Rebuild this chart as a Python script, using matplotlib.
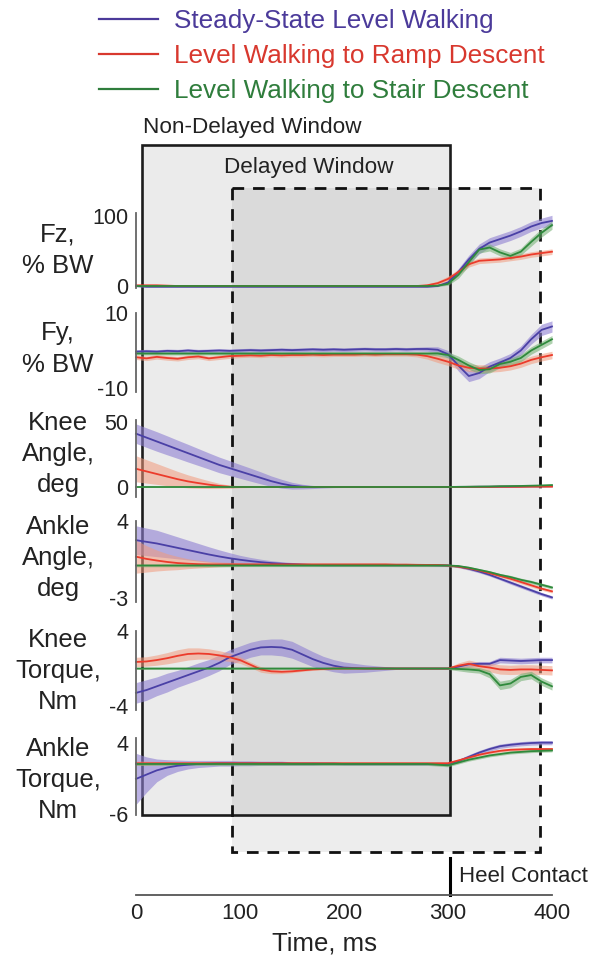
import matplotlib
matplotlib.use("Agg")
import matplotlib.pyplot as plt
from matplotlib.patches import Rectangle
from matplotlib.lines import Line2D
import numpy as np

plt.rcParams['font.family'] = ['Liberation Sans', 'DejaVu Sans']

# ---------------- data ----------------
t_ms = [0, 10, 20, 30, 40, 50, 60, 70, 80, 90,
        100, 110, 120, 130, 140, 150, 160, 170, 180, 190,
        200, 210, 220, 230, 240, 250, 260, 270, 280, 290,
        300, 310, 320, 330, 340, 350, 360, 370, 380, 390, 400]

series_names = ["Steady-State Level Walking",
                "Level Walking to Ramp Descent",
                "Level Walking to Stair Descent"]

# Fz, % BW
fz_level = [0, -1, -1, -1, -1, -1, -1, -1, -1, -1,
            -1, -1, -1, -1, -1, -1, -1, -1, -1, -1,
            -1, -1, -1, -1, -1, -1, -1, -1, -1, 0,
            5, 20, 38, 53, 62, 67, 72, 78, 85, 90, 93]
fz_ramp = [1, 1, 1, 0.5, 0, 0, 0, 0, 0, 0,
           0, 0, 0, 0, 0, 0, 0, 0, 0, 0,
           0, 0, 0, 0, 0, 0, 0, 0, 1, 4,
           10, 20, 31, 36, 37, 38, 40, 42, 45, 47, 49]
fz_stair = [0, 0, 0, 0, 0, 0, 0, 0, 0, 0,
            0, 0, 0, 0, 0, 0, 0, 0, 0, 0,
            0, 0, 0, 0, 0, 0, 0, 0, 0, 0.5,
            3, 16, 34, 52, 55, 48, 43, 49, 63, 76, 87]
fz_level_sd = [1, 1, 1, 1, 1, 1, 1, 1, 1, 1,
               1, 1, 1, 1, 1, 1, 1, 1, 1, 1,
               1, 1, 1, 1, 1, 1, 1, 1, 1, 1,
               2, 5, 6, 7, 7, 7, 7, 7, 7, 7, 8]
fz_ramp_sd = [1, 1, 1, 1, 1, 1, 1, 1, 1, 1,
              1, 1, 1, 1, 1, 1, 1, 1, 1, 1,
              1, 1, 1, 1, 1, 1, 1, 1, 2, 3,
              4, 4, 4, 4, 4, 4, 4, 4, 4, 4, 4]
fz_stair_sd = [1, 1, 1, 1, 1, 1, 1, 1, 1, 1,
               1, 1, 1, 1, 1, 1, 1, 1, 1, 1,
               1, 1, 1, 1, 1, 1, 1, 1, 1, 1,
               2, 5, 5, 5, 5, 5, 5, 5, 6, 6, 6]

# Fy, % BW
fy_level = [-0.3, -0.2, -0.3, -0.1, -0.2, 0, -0.2, -0.1, 0, -0.1,
            0, 0.1, 0, 0.1, 0.2, 0.1, 0.2, 0.3, 0.2, 0.3,
            0.2, 0.3, 0.4, 0.3, 0.3, 0.4, 0.3, 0.4, 0.4, 0.2,
            -1, -4, -6.8, -6, -4.3, -3.2, -2, 0, 3, 5.5, 6.4]
fy_ramp = [-1.8, -2.1, -1.7, -2.0, -2.2, -1.8, -1.6, -2.1, -1.8, -1.5,
           -1.4, -1.3, -1.4, -1.2, -1.3, -1.2, -1.2, -1.1, -1.2, -1.1,
           -1.1, -1.1, -1.0, -1.1, -1.0, -1.0, -1.0, -1.1, -1.5, -2.2,
           -3, -4, -4.6, -4.8, -4.8, -4.6, -4.2, -3.5, -2.5, -1.8, -1.2]
fy_stair = [-0.8, -0.8, -0.8, -0.8, -0.8, -0.8, -0.8, -0.8, -0.8, -0.8,
            -0.8, -0.8, -0.8, -0.8, -0.8, -0.8, -0.8, -0.8, -0.8, -0.8,
            -0.8, -0.8, -0.8, -0.8, -0.8, -0.8, -0.8, -0.8, -0.8, -0.8,
            -1.2, -2.5, -4, -5.2, -5, -3.6, -3, -2, 0, 1.5, 3]
fy_level_sd = [0.5, 0.5, 0.5, 0.5, 0.5, 0.5, 0.5, 0.5, 0.5, 0.5,
               0.5, 0.5, 0.5, 0.5, 0.5, 0.5, 0.5, 0.5, 0.5, 0.5,
               0.5, 0.5, 0.5, 0.5, 0.5, 0.5, 0.5, 0.5, 0.6, 0.8,
               1.0, 1.5, 1.5, 1.5, 1.3, 1.2, 1.2, 1.2, 1.3, 1.5, 1.5]
fy_ramp_sd = [0.6, 0.6, 0.6, 0.6, 0.6, 0.6, 0.6, 0.6, 0.6, 0.6,
              0.5, 0.5, 0.5, 0.5, 0.5, 0.5, 0.5, 0.5, 0.5, 0.5,
              0.5, 0.5, 0.5, 0.5, 0.5, 0.5, 0.5, 0.6, 0.8, 1.0,
              1.0, 1.0, 1.0, 1.0, 1.0, 1.0, 1.0, 1.0, 1.0, 1.0, 1.0]
fy_stair_sd = [0.4, 0.4, 0.4, 0.4, 0.4, 0.4, 0.4, 0.4, 0.4, 0.4,
               0.4, 0.4, 0.4, 0.4, 0.4, 0.4, 0.4, 0.4, 0.4, 0.4,
               0.4, 0.4, 0.4, 0.4, 0.4, 0.4, 0.4, 0.4, 0.4, 0.6,
               0.8, 1.0, 1.0, 1.0, 1.0, 1.0, 1.0, 1.0, 1.0, 1.0, 1.0]

# Knee angle, deg
ka_level = [41, 38, 35, 32, 29, 26, 23, 20, 17, 14.5,
            12, 9.5, 7, 4.5, 2.5, 1, 0.3, 0, 0, 0,
            0, 0, 0, 0, 0, 0, 0, 0, 0, 0,
            0, 0.1, 0.1, 0.2, 0.2, 0.3, 0.3, 0.4, 0.5, 0.5, 0.6]
ka_ramp = [14, 12, 10, 8, 6, 4.3, 3, 1.8, 0.8, 0.2,
           0, 0, 0, 0, 0, 0, 0, 0, 0, 0,
           0, 0, 0, 0, 0, 0, 0, 0, 0, 0,
           0, 0, 0.1, 0.1, 0.1, 0.2, 0.2, 0.2, 0.3, 0.3, 0.3]
ka_stair = [0, 0, 0, 0, 0, 0, 0, 0, 0, 0,
            0, 0, 0, 0, 0, 0, 0, 0, 0, 0,
            0, 0, 0, 0, 0, 0, 0, 0, 0, 0,
            0, 0.1, 0.2, 0.3, 0.4, 0.6, 0.7, 0.8, 1.0, 1.2, 1.5]
ka_level_sd = [7.5, 7.5, 7.5, 7.3, 7, 6.8, 6.5, 6.2, 6, 5.7,
               5.3, 5, 4.6, 4, 3.4, 2.6, 1.8, 1.2, 0.8, 0.5,
               0.4, 0.4, 0.4, 0.4, 0.4, 0.4, 0.4, 0.4, 0.4, 0.4,
               0.4, 0.4, 0.4, 0.4, 0.4, 0.4, 0.4, 0.4, 0.4, 0.4, 0.4]
ka_ramp_sd = [10, 9, 8, 7, 6, 5, 4, 3, 2, 1.2,
              0.6, 0.4, 0.3, 0.3, 0.3, 0.3, 0.3, 0.3, 0.3, 0.3,
              0.3, 0.3, 0.3, 0.3, 0.3, 0.3, 0.3, 0.3, 0.3, 0.3,
              0.3, 0.3, 0.3, 0.3, 0.3, 0.3, 0.3, 0.3, 0.3, 0.3, 0.3]
ka_stair_sd = [0.3, 0.3, 0.3, 0.3, 0.3, 0.3, 0.3, 0.3, 0.3, 0.3,
               0.3, 0.3, 0.3, 0.3, 0.3, 0.3, 0.3, 0.3, 0.3, 0.3,
               0.3, 0.3, 0.3, 0.3, 0.3, 0.3, 0.3, 0.3, 0.3, 0.3,
               0.3, 0.3, 0.3, 0.3, 0.3, 0.3, 0.3, 0.3, 0.3, 0.3, 0.3]

# Ankle angle, deg
aa_level = [2.3, 2.15, 2.0, 1.8, 1.6, 1.4, 1.2, 1.0, 0.82, 0.66,
            0.52, 0.4, 0.3, 0.22, 0.16, 0.12, 0.08, 0.05, 0.03, 0.03,
            0.03, 0.03, 0.03, 0.03, 0.03, 0.03, 0.03, 0.03, 0.03, 0.02,
            0, -0.1, -0.3, -0.55, -0.85, -1.2, -1.55, -1.9, -2.25, -2.6, -2.9]
aa_ramp = [0.8, 0.6, 0.45, 0.32, 0.22, 0.16, 0.12, 0.1, 0.1, 0.1,
           0.1, 0.1, 0.1, 0.1, 0.1, 0.1, 0.1, 0.1, 0.1, 0.1,
           0.1, 0.1, 0.1, 0.1, 0.1, 0.08, 0.08, 0.06, 0.05, 0.05,
           0, -0.1, -0.25, -0.45, -0.7, -0.95, -1.2, -1.5, -1.8, -2.1, -2.35]
aa_stair = [0, 0, 0, 0, 0, 0, 0, 0, 0, 0,
            0, 0, 0, 0, 0, 0, 0, 0, 0, 0,
            0, 0, 0, 0, 0, 0, 0, 0, 0, 0,
            0, -0.05, -0.2, -0.4, -0.6, -0.85, -1.05, -1.3, -1.5, -1.75, -2.0]
aa_level_sd = [1.3, 1.25, 1.2, 1.1, 1.0, 0.9, 0.8, 0.7, 0.6, 0.5,
               0.4, 0.33, 0.27, 0.22, 0.18, 0.15, 0.12, 0.1, 0.1, 0.1,
               0.1, 0.1, 0.1, 0.1, 0.1, 0.1, 0.1, 0.1, 0.1, 0.1,
               0.1, 0.1, 0.12, 0.12, 0.12, 0.12, 0.15, 0.15, 0.15, 0.15, 0.15]
aa_ramp_sd = [1.5, 1.2, 0.95, 0.75, 0.6, 0.45, 0.35, 0.28, 0.22, 0.18,
              0.15, 0.12, 0.1, 0.1, 0.1, 0.1, 0.1, 0.1, 0.1, 0.1,
              0.1, 0.1, 0.1, 0.1, 0.1, 0.1, 0.1, 0.1, 0.1, 0.1,
              0.1, 0.1, 0.12, 0.12, 0.12, 0.12, 0.15, 0.15, 0.15, 0.15, 0.15]
aa_stair_sd = [0.12, 0.12, 0.12, 0.12, 0.12, 0.12, 0.12, 0.12, 0.12, 0.12,
               0.1, 0.1, 0.1, 0.1, 0.1, 0.1, 0.1, 0.1, 0.1, 0.1,
               0.1, 0.1, 0.1, 0.1, 0.1, 0.1, 0.1, 0.1, 0.1, 0.1,
               0.1, 0.1, 0.12, 0.12, 0.12, 0.12, 0.15, 0.15, 0.15, 0.15, 0.15]

# Knee torque, Nm
kt_level = [-2.6, -2.3, -1.9, -1.5, -1.1, -0.7, -0.3, 0.1, 0.6, 1.2,
            1.6, 2.0, 2.25, 2.3, 2.25, 2.0, 1.5, 1.0, 0.6, 0.3,
            0.1, 0.05, 0, 0, 0, 0, 0, 0, 0, 0,
            0, 0.2, 0.45, 0.5, 0.5, 0.9, 0.85, 0.8, 0.85, 0.9, 0.9]
kt_ramp = [0.7, 0.75, 0.9, 1.1, 1.35, 1.55, 1.6, 1.55, 1.4, 1.2,
           0.9, 0.4, -0.1, -0.3, -0.35, -0.3, -0.2, -0.1, -0.05, 0,
           0, 0, 0, 0, 0, 0, 0, 0, 0, 0,
           0, 0.3, 0.5, 0.25, 0.1, -0.1, -0.15, -0.1, -0.1, -0.15, -0.2]
kt_stair = [0, 0, 0, 0, 0, 0, 0, 0, 0, 0,
            0, 0, 0, 0, 0, 0, 0, 0, 0, 0,
            0, 0, 0, 0, 0, 0, 0, 0, 0, 0,
            0, -0.05, -0.1, -0.2, -0.6, -1.8, -1.6, -0.9, -0.7, -1.4, -1.9]
kt_level_sd = [1.1, 1.1, 1.0, 1.0, 0.9, 0.9, 0.9, 0.85, 0.85, 0.8,
               0.8, 0.8, 0.8, 0.85, 0.9, 0.9, 0.85, 0.8, 0.7, 0.65,
               0.6, 0.5, 0.4, 0.3, 0.2, 0.1, 0.1, 0.1, 0.1, 0.1,
               0.1, 0.2, 0.25, 0.25, 0.25, 0.3, 0.3, 0.3, 0.3, 0.3, 0.3]
kt_ramp_sd = [0.5, 0.5, 0.55, 0.6, 0.65, 0.65, 0.6, 0.55, 0.5, 0.45,
              0.35, 0.3, 0.3, 0.25, 0.2, 0.15, 0.1, 0.1, 0.1, 0.1,
              0.1, 0.1, 0.1, 0.1, 0.1, 0.1, 0.1, 0.1, 0.1, 0.1,
              0.1, 0.3, 0.4, 0.4, 0.45, 0.5, 0.5, 0.5, 0.5, 0.5, 0.5]
kt_stair_sd = [0.1, 0.1, 0.1, 0.1, 0.1, 0.1, 0.1, 0.1, 0.1, 0.1,
               0.1, 0.1, 0.1, 0.1, 0.1, 0.1, 0.1, 0.1, 0.1, 0.1,
               0.1, 0.1, 0.1, 0.1, 0.1, 0.1, 0.1, 0.1, 0.1, 0.1,
               0.1, 0.2, 0.3, 0.3, 0.4, 0.45, 0.45, 0.4, 0.4, 0.4, 0.4]

# Ankle torque, Nm
at_level = [-1.1, -0.5, 0.1, 0.5, 0.75, 0.9, 1.0, 1.05, 1.1, 1.1,
            1.1, 1.1, 1.1, 1.1, 1.1, 1.05, 1.05, 1.05, 1.05, 1.05,
            1.0, 1.0, 1.0, 1.0, 1.0, 1.0, 1.0, 1.0, 1.0, 1.0,
            1.0, 1.4, 2.0, 2.6, 3.1, 3.5, 3.7, 3.85, 3.95, 4.0, 4.0]
at_ramp = [1.1, 1.1, 1.1, 1.1, 1.1, 1.1, 1.1, 1.1, 1.1, 1.1,
           1.1, 1.1, 1.1, 1.1, 1.1, 1.1, 1.1, 1.1, 1.1, 1.1,
           1.1, 1.1, 1.1, 1.1, 1.1, 1.1, 1.1, 1.1, 1.1, 1.1,
           1.1, 1.5, 1.9, 2.3, 2.6, 2.85, 3.0, 3.05, 3.1, 3.1, 3.1]
at_stair = [1.0, 1.0, 1.0, 1.0, 1.0, 1.0, 1.0, 1.0, 1.0, 1.0,
            1.0, 1.0, 1.0, 1.0, 1.0, 1.0, 1.0, 1.0, 1.0, 1.0,
            1.0, 1.0, 1.0, 1.0, 1.0, 1.0, 1.0, 1.0, 1.0, 0.9,
            0.8, 1.2, 1.6, 1.9, 2.2, 2.4, 2.6, 2.7, 2.8, 2.85, 2.9]
at_level_sd = [3.6, 2.5, 1.6, 1.1, 0.8, 0.6, 0.5, 0.45, 0.4, 0.4,
               0.35, 0.35, 0.3, 0.3, 0.3, 0.25, 0.25, 0.25, 0.2, 0.2,
               0.2, 0.2, 0.2, 0.2, 0.2, 0.2, 0.2, 0.2, 0.2, 0.2,
               0.2, 0.25, 0.3, 0.3, 0.3, 0.3, 0.3, 0.3, 0.3, 0.3, 0.3]
at_ramp_sd = [0.3, 0.3, 0.25, 0.25, 0.2, 0.2, 0.2, 0.2, 0.2, 0.2,
              0.2, 0.2, 0.2, 0.2, 0.2, 0.2, 0.2, 0.2, 0.2, 0.2,
              0.2, 0.2, 0.2, 0.2, 0.2, 0.2, 0.2, 0.2, 0.2, 0.2,
              0.2, 0.2, 0.2, 0.2, 0.2, 0.2, 0.2, 0.2, 0.2, 0.2, 0.2]
at_stair_sd = [0.2, 0.2, 0.2, 0.2, 0.2, 0.2, 0.2, 0.2, 0.2, 0.2,
               0.2, 0.2, 0.2, 0.2, 0.2, 0.2, 0.2, 0.2, 0.2, 0.2,
               0.2, 0.2, 0.2, 0.2, 0.2, 0.2, 0.2, 0.2, 0.2, 0.2,
               0.2, 0.2, 0.2, 0.2, 0.2, 0.2, 0.2, 0.2, 0.2, 0.2, 0.2]

panel_labels = ["Fz,\n% BW", "Fy,\n% BW", "Knee\nAngle,\ndeg",
                "Ankle\nAngle,\ndeg", "Knee\nTorque,\nNm", "Ankle\nTorque,\nNm"]
panel_ticks = [[0, 100], [-10, 10], [0, 50], [-3, 4], [-4, 4], [-6, 4]]
panel_tick_labels = [["0", "100"], ["-10", "10"], ["0", "50"],
                     ["-3", "4"], ["-4", "4"], ["-6", "4"]]

x_ticks = [0, 100, 200, 300, 400]
non_delayed_window = (6, 302)
delayed_window = (92, 388)
heel_contact_ms = 302

# ---------------- style / layout ----------------
W, H = 593, 961
line_colors = ["#4a40a6", "#ec3b2b", "#2f8a3c"]
band_colors = ["#8f80d2", "#f29a7c", "#6fae6f"]
band_alpha = [0.6, 0.55, 0.55]
legend_colors = ["#4b3a9a", "#d8382e", "#2f7d3c"]

X0, X1 = 136, 552          # pixel positions of 0 and 400 ms
# (ylim, top_px, bottom_px, label_center_px)
panel_layout = [
    ((-3, 104), 213.2, 288.1, 250),
    ((-11, 10), 313.0, 391.75, 349),
    ((-8, 51.5), 420.0, 497.4, 454),
    ((-3.3, 4.05), 520.9, 601.8, 558),
    ((-4.4, 4.0), 631.0, 709.75, 671),
    ((-6.2, 4.7), 737.7, 815.1, 780),
]

panel_data = [
    ([fz_level, fz_ramp, fz_stair], [fz_level_sd, fz_ramp_sd, fz_stair_sd]),
    ([fy_level, fy_ramp, fy_stair], [fy_level_sd, fy_ramp_sd, fy_stair_sd]),
    ([ka_level, ka_ramp, ka_stair], [ka_level_sd, ka_ramp_sd, ka_stair_sd]),
    ([aa_level, aa_ramp, aa_stair], [aa_level_sd, aa_ramp_sd, aa_stair_sd]),
    ([kt_level, kt_ramp, kt_stair], [kt_level_sd, kt_ramp_sd, kt_stair_sd]),
    ([at_level, at_ramp, at_stair], [at_level_sd, at_ramp_sd, at_stair_sd]),
]

fig = plt.figure(figsize=(W / 100, H / 100), dpi=100)
fig.patch.set_facecolor("white")

def fx(px):
    return px / W

def fy(py):
    return 1 - py / H

# background axes: x in ms, y in pixel rows (layout only)
bg = fig.add_axes([fx(X0), 0, fx(X1) - fx(X0), 1], zorder=0)
bg.set_xlim(0, 400)
bg.set_ylim(H, 0)
bg.axis("off")

nd0, nd1 = non_delayed_window
d0, d1 = delayed_window
bg.add_patch(Rectangle((nd0, 145), nd1 - nd0, 670, facecolor="black", alpha=0.08,
                       edgecolor="none", clip_on=False))
bg.add_patch(Rectangle((d0, 188), d1 - d0, 664, facecolor="black", alpha=0.07,
                       edgecolor="none", clip_on=False))
bg.add_patch(Rectangle((nd0, 145), nd1 - nd0, 670, facecolor="none",
                       edgecolor="#1c1c1c", lw=1.9, clip_on=False, zorder=5))
bg.add_patch(Rectangle((d0, 188), d1 - d0, 664, facecolor="none",
                       edgecolor="#111111", lw=2.0, linestyle=(0, (4.2, 3.2)),
                       clip_on=False, zorder=5))
bg.text(nd0 + 0.5, 128, "Non-Delayed Window", fontsize=16.2, color="#222222",
        ha="left", va="center")
bg.text(d0 - 7, 167, "Delayed Window", fontsize=16.2, color="#222222",
        ha="left", va="center")

# heel contact marker
bg.plot([heel_contact_ms, heel_contact_ms], [858, 895], color="black", lw=2.2,
        clip_on=False)
bg.text(heel_contact_ms + 8.5, 876, "Heel Contact", fontsize=16, color="#222222",
        ha="left", va="center")
bg.text(181, 943, "Time, ms", fontsize=18.5, color="#222222", ha="center", va="center")

# panels
t_arr = np.array(t_ms, dtype=float)
for (ylim, top, bot, lab_y), (means, sds), lab, ticks, tlabels in zip(
        panel_layout, panel_data, panel_labels, panel_ticks, panel_tick_labels):
    ax = fig.add_axes([fx(X0), fy(bot), fx(X1) - fx(X0), (bot - top) / H], zorder=2)
    ax.patch.set_alpha(0)
    ax.set_xlim(0, 400)
    ax.set_ylim(*ylim)
    for s in ["top", "right", "bottom"]:
        ax.spines[s].set_visible(False)
    ax.spines["left"].set_color("#666666")
    ax.spines["left"].set_linewidth(1.3)
    ax.set_xticks([])
    ax.set_yticks(ticks)
    ax.set_yticklabels(tlabels)
    ax.tick_params(axis="y", length=0, pad=5.5, labelsize=15.5, labelcolor="#222222")
    for m, sd, lc, bc, ba in zip(means, sds, line_colors, band_colors, band_alpha):
        m = np.array(m, dtype=float)
        sd = np.array(sd, dtype=float)
        ax.fill_between(t_arr, m - sd, m + sd, color=bc, alpha=ba, lw=0, clip_on=False)
    for m, lc in zip(means, line_colors):
        ax.plot(t_arr, m, color=lc, lw=1.3, clip_on=False)
    ax.set_ylabel(lab, rotation=0, ha="center", va="center", fontsize=18.5,
                  linespacing=1.38, color="#222222")
    ax.yaxis.set_label_coords((58 - X0) / (X1 - X0), (bot - lab_y) / (bot - top))

# time axis
xa = fig.add_axes([fx(X0), fy(895), fx(X1) - fx(X0), 0.001], zorder=1)
xa.patch.set_alpha(0)
xa.set_xlim(0, 400)
for s in ["top", "right", "left"]:
    xa.spines[s].set_visible(False)
xa.spines["bottom"].set_color("#555555")
xa.spines["bottom"].set_linewidth(1.3)
xa.set_yticks([])
xa.set_xticks(x_ticks)
xa.set_xticklabels([str(v) for v in x_ticks])
xa.tick_params(axis="x", length=0, pad=6, labelsize=16, labelcolor="#222222")

# legend
handles = [Line2D([], [], color=c, lw=1.6) for c in legend_colors]
leg = fig.legend(handles, series_names, loc="upper left",
                 bbox_to_anchor=(fx(99), fy(9)), frameon=False, fontsize=18.8,
                 handlelength=2.25, handletextpad=0.62, labelspacing=0.42,
                 borderpad=0, borderaxespad=0)
for txt, c in zip(leg.get_texts(), legend_colors):
    txt.set_color(c)

fig.savefig("out.png", dpi=100, facecolor="white")
